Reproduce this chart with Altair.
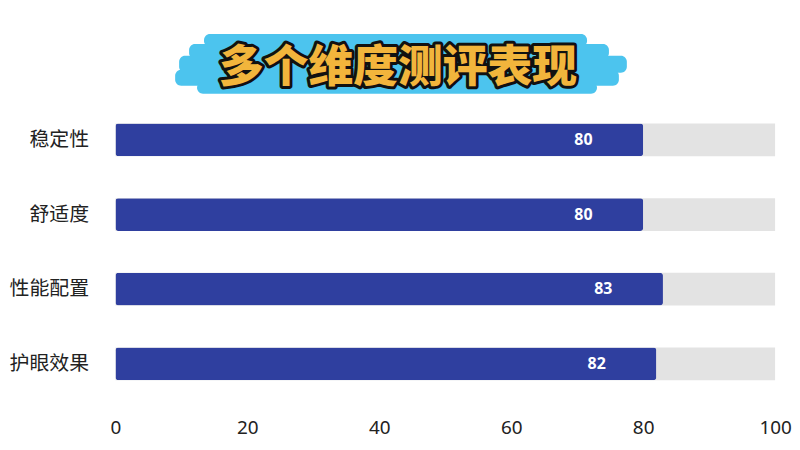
import altair as alt
import pandas as pd

categories = ["稳定性", "舒适度", "性能配置", "护眼效果"]
values = [80, 80, 83, 82]
full = [100, 100, 100, 100]
title_text = "多个维度测评表现"

df = pd.DataFrame({"cat": categories, "value": values, "full": full})

# decorative brush strokes behind title (pixel positions relative to plot area)
brush = pd.DataFrame({
    "x1": [205, 190, 180, 176, 198],
    "x2": [590, 612, 630, 622, 600],
    "y1": [33, 43, 55, 69, 81],
    "y2": [46, 58, 72, 85, 93],
})
ox, oy = 116, 102
brush["x1"] -= ox; brush["x2"] -= ox
brush["y1"] -= oy; brush["y2"] -= oy

yenc = alt.Y("cat:N", sort=categories, title=None,
             scale=alt.Scale(paddingInner=0.56, paddingOuter=0.28),
             axis=alt.Axis(labelFont="Noto Sans CJK SC", labelFontSize=20,
                           labelColor="#222222", labelPadding=27,
                           domain=False, ticks=False, grid=False))
xscale = alt.Scale(domain=[0, 100])

bg = alt.Chart(df).mark_bar(color="#e3e3e3").encode(
    x=alt.X("full:Q", scale=xscale, title=None,
            axis=alt.Axis(values=[0, 20, 40, 60, 80, 100], labelFont="Noto Sans",
                          labelFontSize=19, labelColor="#222222", labelPadding=18,
                          labelFlush=False, labelOverlap=False,
                          domain=False, ticks=False, grid=False)),
    y=yenc,
)
bars = alt.Chart(df).mark_bar(color="#2f3f9f", cornerRadius=3).encode(
    x=alt.X("value:Q", scale=xscale), y=alt.Y("cat:N", sort=categories))
labels = alt.Chart(df).mark_text(color="white", fontWeight="bold", fontSize=16,
                                 font="Noto Sans", dx=-60, align="center").encode(
    x=alt.X("value:Q", scale=xscale), y=alt.Y("cat:N", sort=categories),
    text="value:Q")

brush_layer = alt.Chart(brush).mark_rect(color="#4cc4ee", cornerRadius=6).encode(
    x=alt.X("x1:Q", scale=None), x2="x2:Q",
    y=alt.Y("y1:Q", scale=None), y2="y2:Q")

tdf = pd.DataFrame({"t": [title_text]})
title_stroke = alt.Chart(tdf).mark_text(
    font="Noto Sans CJK SC", fontWeight=900, fontSize=45, color="#111111",
    stroke="#111111", strokeWidth=6, strokeJoin="round", align="center",
    baseline="middle").encode(text="t:N", x=alt.value(400 - ox), y=alt.value(67 - oy))
title_fill = alt.Chart(tdf).mark_text(
    font="Noto Sans CJK SC", fontWeight=900, fontSize=45, color="#f2b53c",
    align="center", baseline="middle").encode(
    text="t:N", x=alt.value(400 - ox), y=alt.value(67 - oy))

chart = alt.layer(bg, bars, labels, brush_layer, title_stroke, title_fill).properties(
    width=663, height=300,
    background="white",
    autosize=alt.AutoSizeParams(type="none"),
    padding={"left": 108, "top": 94, "right": 17, "bottom": 40},
).configure_view(strokeWidth=0, stroke="transparent")

chart.save("out.html", embed_options={"renderer": "svg", "actions": False})
